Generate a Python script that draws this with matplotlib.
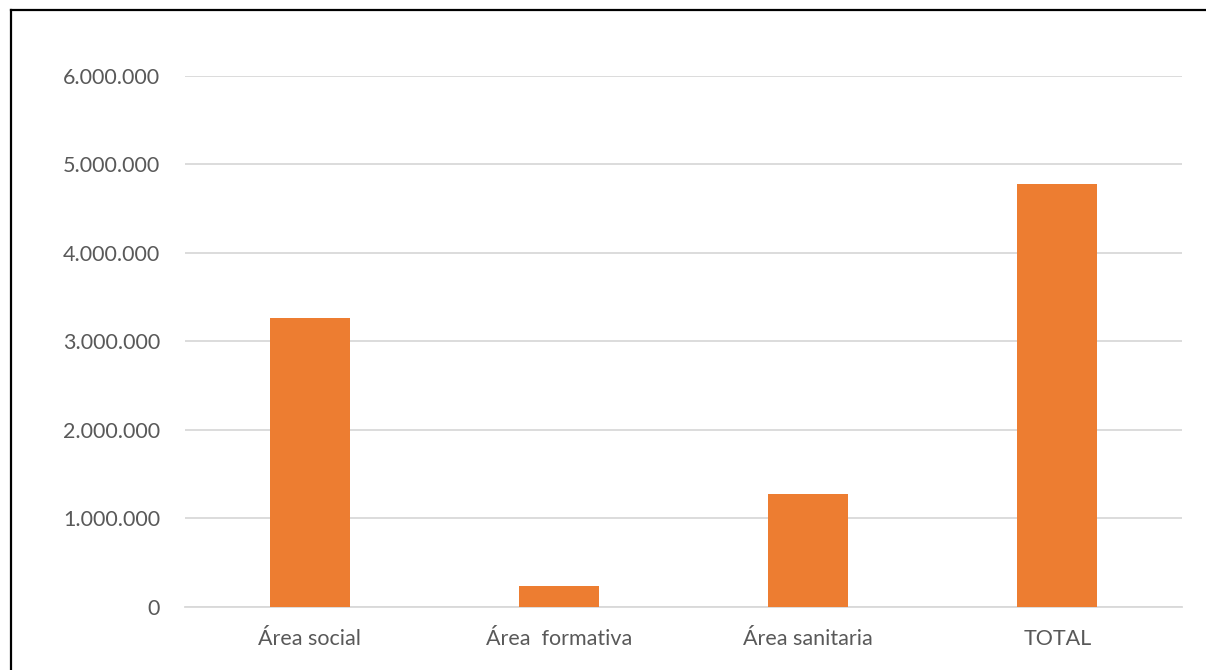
import matplotlib
matplotlib.use("Agg")
import matplotlib.pyplot as plt
from matplotlib.lines import Line2D
from matplotlib.ticker import FuncFormatter

categories = ["Área social", "Área  formativa", "Área sanitaria", "TOTAL"]
values = [3264000, 237000, 1279000, 4780000]
yticks = [0, 1000000, 2000000, 3000000, 4000000, 5000000, 6000000]

plt.rcParams['font.family'] = ['Lato', 'DejaVu Sans']

fig = plt.figure(figsize=(12.06, 6.70), dpi=100)
ax = fig.add_axes([185/1206, 1-607/670, (1182-185)/1206, (607-75.7)/670])

x = list(range(len(categories)))
ax.bar(x, values, width=0.32, color="#ED7D31", zorder=3)
ax.set_xlim(-0.5, len(categories)-0.5)
ax.set_ylim(0, 6000000)
ax.set_yticks(yticks)
ax.yaxis.set_major_formatter(FuncFormatter(lambda v, p: f"{int(v):,}".replace(",", ".")))
ax.set_xticks(x)
ax.set_xticklabels(categories)
ax.grid(axis="y", color="#D9D9D9", linewidth=1.3, zorder=0)
for s in ["top", "right", "left"]:
    ax.spines[s].set_visible(False)
ax.spines["bottom"].set_color("#D9D9D9")
ax.spines["bottom"].set_linewidth(1.3)
ax.tick_params(axis="both", length=0, labelsize=15.5, colors="#595959")
ax.tick_params(axis="y", pad=18)
ax.tick_params(axis="x", pad=16)

fig.add_artist(Line2D([11/1206, 11/1206], [0, 1-10/670], color="black", linewidth=1.6, transform=fig.transFigure))
fig.add_artist(Line2D([11/1206, 1.01], [1-10/670, 1-10/670], color="black", linewidth=1.6, transform=fig.transFigure))

fig.savefig("out.png", dpi=100, facecolor="white")
